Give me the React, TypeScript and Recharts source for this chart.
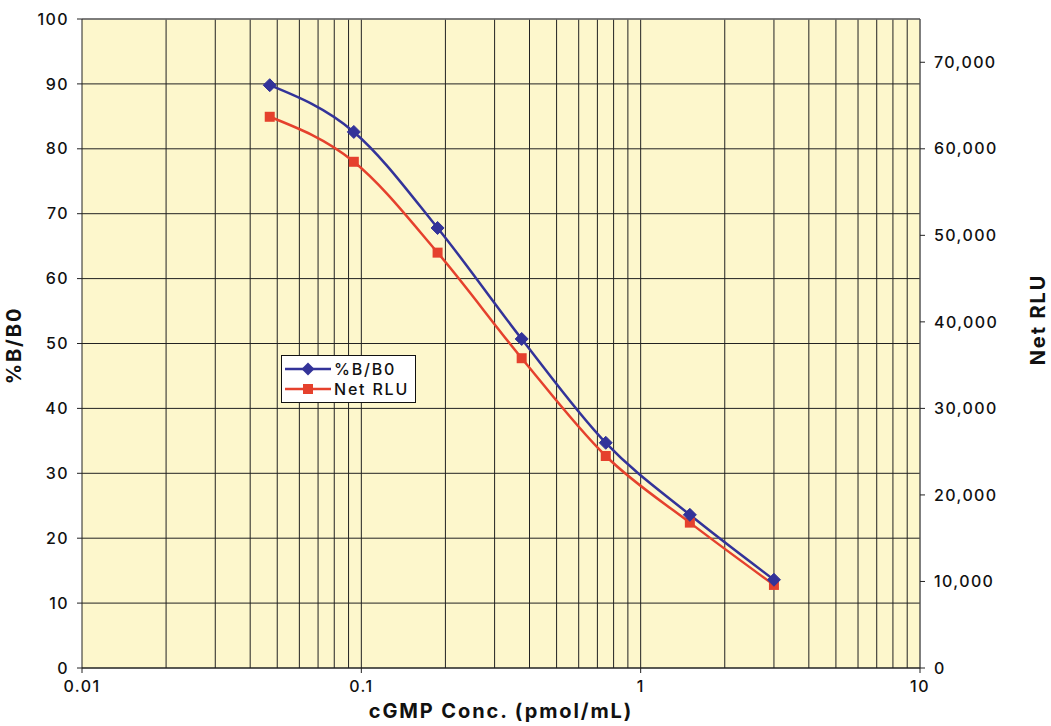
import React from 'react';
import {
  ComposedChart,
  Line,
  XAxis,
  YAxis,
  CartesianGrid,
  ReferenceLine,
  Legend,
} from 'recharts';

const concentrations = [0.047, 0.094, 0.1875, 0.375, 0.75, 1.5, 3.0];
const pctB0 = [89.8, 82.6, 67.8, 50.7, 34.7, 23.6, 13.6];
const netRLU = [63700, 58500, 48000, 35800, 24500, 16800, 9600];

const xTicks = [0.01, 0.1, 1, 10];
const xMinorGrid = [
  0.02, 0.03, 0.04, 0.05, 0.06, 0.07, 0.08, 0.09,
  0.1, 0.2, 0.3, 0.4, 0.5, 0.6, 0.7, 0.8, 0.9,
  1, 2, 3, 4, 5, 6, 7, 8, 9,
];
const leftTicks = [0, 10, 20, 30, 40, 50, 60, 70, 80, 90, 100];
const rightTicks = [0, 10000, 20000, 30000, 40000, 50000, 60000, 70000];

const data = concentrations.map((c, i) => ({ conc: c, pct: pctB0[i], rlu: netRLU[i] }));

const BLUE = '#333399';
const RED = '#E5412D';
const BG = '#FDF7CC';
const FONT = 'Inter, "Noto Sans", sans-serif';

const Diamond = (props: any) => {
  const { cx, cy } = props;
  if (cx == null || cy == null) return null;
  const r = 6.5;
  return (
    <polygon
      key={`d-${cx}-${cy}`}
      points={`${cx},${cy - r} ${cx + r},${cy} ${cx},${cy + r} ${cx - r},${cy}`}
      fill={BLUE}
      stroke={BLUE}
    />
  );
};

const Square = (props: any) => {
  const { cx, cy } = props;
  if (cx == null || cy == null) return null;
  const s = 5;
  return <rect key={`s-${cx}-${cy}`} x={cx - s} y={cy - s} width={2 * s} height={2 * s} fill={RED} />;
};

const LegendBox = () => (
  <div
    style={{
      border: '1.5px solid #111',
      background: '#fff',
      width: 135,
      boxSizing: 'border-box',
      padding: '3px 3px',
      fontFamily: FONT,
      fontSize: 16,
      fontWeight: 500,
      letterSpacing: 1.8,
      color: '#111',
      lineHeight: '20px',
      whiteSpace: 'nowrap',
    }}
  >
    <div style={{ display: 'flex', alignItems: 'center' }}>
      <svg width={46} height={16} style={{ marginRight: 3 }}>
        <line x1={0} y1={8} x2={46} y2={8} stroke={BLUE} strokeWidth={2.5} />
        <polygon points="23,1.5 29.5,8 23,14.5 16.5,8" fill={BLUE} />
      </svg>
      <span>%B/B0</span>
    </div>
    <div style={{ display: 'flex', alignItems: 'center' }}>
      <svg width={46} height={16} style={{ marginRight: 3 }}>
        <line x1={0} y1={8} x2={46} y2={8} stroke={RED} strokeWidth={2.5} />
        <rect x={18} y={3} width={10} height={10} fill={RED} />
      </svg>
      <span>Net RLU</span>
    </div>
  </div>
);

const tickStyle = { fontFamily: FONT, fontSize: 16, fontWeight: 500, fill: '#111', letterSpacing: 1.4 };
const labelStyle = { fontFamily: FONT, fontSize: 20, fontWeight: 700, fill: '#111', letterSpacing: 1.9 };

export default function App() {
  return (
    <div style={{ position: 'absolute', left: 0, top: 0, width: 1051, height: 726, background: '#fff' }}>
      <ComposedChart width={1051} height={726} data={data} margin={{ top: 19, right: 0, bottom: 0, left: 0 }}>
        <CartesianGrid
          yAxisId="left"
          fill={BG}
          vertical={false}
          stroke="#222"
          strokeWidth={1}
        />
        {xMinorGrid.map((v) => (
          <ReferenceLine key={`g${v}`} x={v} yAxisId="left" stroke="#222" strokeWidth={1} ifOverflow="hidden" />
        ))}
        <ReferenceLine y={100} yAxisId="left" stroke="#777" strokeWidth={1.5} />
        <ReferenceLine x={10} yAxisId="left" stroke="#555" strokeWidth={1.5} />
        <XAxis
          dataKey="conc"
          type="number"
          scale="log"
          domain={[0.01, 10]}
          ticks={xTicks}
          allowDataOverflow
          height={58}
          tickSize={5}
          tickMargin={8}
          stroke="#222"
          tick={tickStyle}
          tickFormatter={(v: number) => String(v)}
          label={{ value: 'cGMP Conc. (pmol/mL)', position: 'insideBottom', offset: 8, style: labelStyle }}
        />
        <YAxis
          yAxisId="left"
          orientation="left"
          domain={[0, 100]}
          ticks={leftTicks}
          width={82}
          tickSize={5}
          tickMargin={8}
          stroke="#222"
          tick={tickStyle}
          label={{ value: '%B/B0', angle: -90, position: 'insideLeft', offset: 14, dy: 2, style: { ...labelStyle, textAnchor: 'middle' } }}
        />
        <YAxis
          yAxisId="right"
          orientation="right"
          domain={[0, 75000]}
          ticks={rightTicks}
          width={131}
          tickSize={5}
          tickMargin={9}
          axisLine={false}
          stroke="#222"
          tick={tickStyle}
          tickFormatter={(v: number) => v.toLocaleString('en-US')}
          label={{ value: 'Net RLU', angle: -90, position: 'insideRight', offset: 13, dy: -24, style: { ...labelStyle, textAnchor: 'middle' } }}
        />
        <Legend
          layout="vertical"
          align="center"
          verticalAlign="middle"
          content={() => <LegendBox />}
          wrapperStyle={{ position: 'absolute', left: 281, top: 355, width: 135 }}
        />
        <Line
          yAxisId="right"
          type="monotone"
          dataKey="rlu"
          name="Net RLU"
          stroke={RED}
          strokeWidth={2.5}
          dot={Square}
          isAnimationActive={false}
        />
        <Line
          yAxisId="left"
          type="monotone"
          dataKey="pct"
          name="%B/B0"
          stroke={BLUE}
          strokeWidth={2.5}
          dot={Diamond}
          isAnimationActive={false}
        />
      </ComposedChart>
    </div>
  );
}
